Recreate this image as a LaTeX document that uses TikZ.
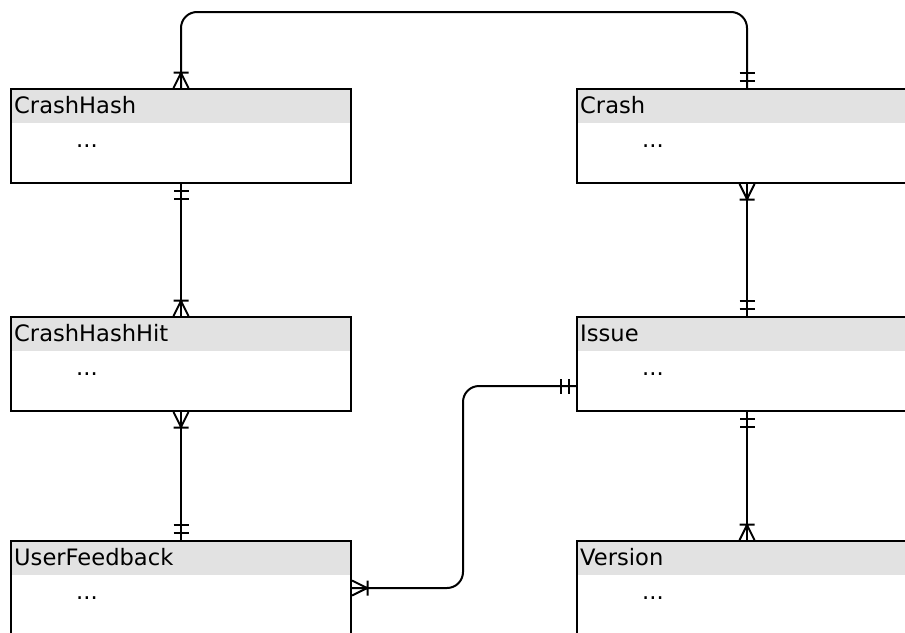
\documentclass[tikz,border=0pt]{standalone}
\usepackage{fontspec}
\setmainfont{DejaVu Sans}
\definecolor{hdrgray}{HTML}{E2E2E2}
\tikzset{
  x=1pt, y=1pt,
  conn/.style={line width=2pt, line cap=butt},
  entbox/.style={draw, line width=2pt, anchor=north west, inner sep=0pt,
    minimum width=340pt, minimum height=94pt,
    path picture={\fill[hdrgray] (path picture bounding box.north west)
      rectangle ([yshift=-34pt]path picture bounding box.north east);}},
  titletext/.style={anchor=base west, inner sep=0pt, font=\fontsize{22.6}{27}\selectfont},
  bodytext/.style={anchor=base west, inner sep=0pt, font=\fontsize{22.6}{27}\selectfont},
  % cardinality markers; local +y points away from the entity
  pics/oneonly/.style={code={\draw[conn] (-7.5,7)--(7.5,7) (-7.5,15)--(7.5,15);}},
  pics/onemany/.style={code={\draw[conn] (-7.5,0)--(0,15)--(7.5,0) (-7.5,15.5)--(7.5,15.5);}}
}
% entity box: name, x, y (top-left corner), title
\newcommand\erentity[4]{%
  \node[entbox] (#1) at (#2,#3) {};
  \node[titletext] (#1-title) at ([xshift=4pt,yshift=-25pt]#1.north west) {#4};
  \node[bodytext] (#1-body) at ([xshift=66pt,yshift=-59pt]#1.north west) {...};
}
\begin{document}
\begin{tikzpicture}
  \clip (0,0) rectangle (905,-632);

  \erentity{crashhash}{10}{-88}{CrashHash}
  \erentity{crash}{576}{-88}{Crash}
  \erentity{crashhashhit}{10}{-316}{CrashHashHit}
  \erentity{issue}{576}{-316}{Issue}
  \erentity{userfeedback}{10}{-540}{UserFeedback}
  \erentity{version}{576}{-540}{Version}

  \coordinate (issue-port) at ([yshift=-22pt]issue.west);

  % relationships
  \draw[conn, rounded corners=16pt] (crashhash.north) |- (463,-12) -| (crash.north);
  \draw[conn] (crashhash.south) -- (crashhashhit.north);
  \draw[conn] (crashhashhit.south) -- (userfeedback.north);
  \draw[conn] (crash.south) -- (issue.north);
  \draw[conn] (issue.south) -- (version.north);
  \draw[conn, rounded corners=16pt] (issue-port) -| (463,-480) |- (userfeedback.east);

  % cardinalities
  \pic at (crashhash.north) {onemany};
  \pic at (crash.north) {oneonly};
  \pic[rotate=180] at (crashhash.south) {oneonly};
  \pic at (crashhashhit.north) {onemany};
  \pic[rotate=180] at (crashhashhit.south) {onemany};
  \pic at (userfeedback.north) {oneonly};
  \pic[rotate=180] at (crash.south) {onemany};
  \pic at (issue.north) {oneonly};
  \pic[rotate=180] at (issue.south) {oneonly};
  \pic at (version.north) {onemany};
  \pic[rotate=90] at (issue-port) {oneonly};
  \pic[rotate=-90] at (userfeedback.east) {onemany};
\end{tikzpicture}
\end{document}
